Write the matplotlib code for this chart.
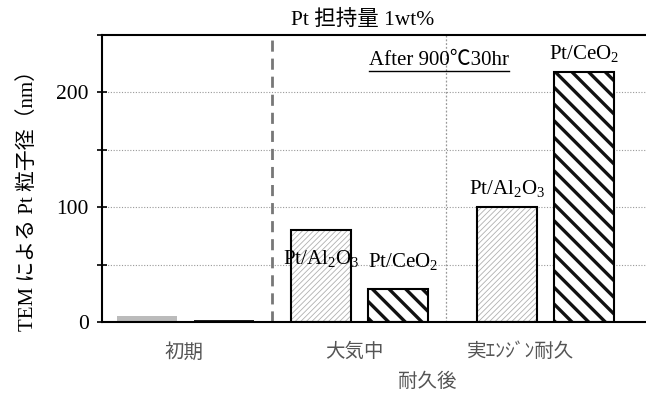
import matplotlib.pyplot as plt
from matplotlib.ticker import MultipleLocator
from matplotlib.lines import Line2D

plt.rcParams['font.family'] = ['Liberation Serif', 'Noto Sans CJK JP', 'DejaVu Sans']
plt.rcParams['mathtext.fontset'] = 'custom'
plt.rcParams['mathtext.rm'] = 'Liberation Serif'

# particle size of Pt by TEM (nm), Pt loading 1 wt%
groups = ['初期', '大気中', '実ｴﾝｼﾞﾝ耐久']
al2o3 = [5, 80, 100]
ceo2 = [2, 29, 218]

AL = 'Pt/Al$_\\mathregular{2}$O$_\\mathregular{3}$'
CE = 'Pt/CeO$_\\mathregular{2}$'

gx = [0.0, 1.0, 2.07]      # group centres
off = 0.22
w = 0.345
tick_x = [-0.01, 0.97, 1.93]

fig = plt.figure(figsize=(6.46, 3.94), dpi=100)
ax = fig.add_axes([102 / 646, 72 / 394, 546 / 646, 287 / 394])

# grid and separators
for y in [50, 100, 150, 200]:
    ax.axhline(y, color='#999999', lw=0.8, ls=(0, (1, 1.5)), zorder=0)
ax.axvline(0.5, color='#777777', lw=2.0, ls=(0, (4, 2.5)), zorder=1)
ax.axvline(1.5, color='#999999', lw=0.9, ls=(0, (1.5, 1.5)), zorder=0)

# initial state: very thin bars
ax.bar(gx[0] - off, al2o3[0], w, color='#bbbbbb', lw=0, zorder=2)
ax.bar(gx[0] + off, ceo2[0], w, color='#222222', lw=0, zorder=2)

# aged: hatched bars
xa = [x - off for x in gx[1:]]
xc = [x + off for x in gx[1:]]
with plt.rc_context({'hatch.linewidth': 0.6}):
    ax.bar(xa, al2o3[1:], w, color='white', edgecolor='#b0b0b0', hatch='//////', lw=0, zorder=2)
with plt.rc_context({'hatch.linewidth': 2.4}):
    ax.bar(xc, ceo2[1:], w, color='white', edgecolor='#111111', hatch='\\\\', lw=0, zorder=2)
ax.bar(xa + xc, al2o3[1:] + ceo2[1:], w, fill=False, edgecolor='black', lw=1.5, zorder=3)

# bar labels
ax.text(gx[1] - off, 55, AL, ha='center', va='center', fontsize=15, zorder=4)
ax.text(gx[1] + off + 0.03, 52, CE, ha='center', va='center', fontsize=15, zorder=4)
ax.text(gx[2] - off, al2o3[2] + 6, AL, ha='center', va='bottom', fontsize=15, zorder=4)
ax.text(gx[2] + off, ceo2[2] + 6, CE, ha='center', va='bottom', fontsize=15, zorder=4)
after = ax.text(1.46, 228, 'After 900℃30hr', ha='center', va='center', fontsize=15, zorder=4)

ax.set_xlim(-0.48, 2.66)
ax.set_ylim(0, 250)
ax.set_xticks(tick_x)
ax.set_xticklabels(groups, fontsize=14, color='#555555')
ax.tick_params(axis='x', length=0, pad=15)
ax.yaxis.set_major_locator(MultipleLocator(100))
ax.yaxis.set_minor_locator(MultipleLocator(50))
ax.tick_params(axis='y', which='both', direction='inout', length=7, width=1.2, labelsize=15.5, pad=6)
for s in ['left', 'bottom', 'top']:
    ax.spines[s].set_linewidth(1.5)
ax.spines['right'].set_visible(False)

ax.set_ylabel('TEM による Pt 粒子径（nm）', fontsize=15)
ax.yaxis.set_label_coords(-0.117, 0.44)
fig.text(427 / 646, 1 - 382 / 394, '耐久後', ha='center', va='center', fontsize=14, color='#555555')
fig.text(363 / 646, 1 - 20 / 394, 'Pt 担持量 1wt%', ha='center', va='center', fontsize=15.5)

# underline for the ageing condition
fig.canvas.draw()
bb = after.get_window_extent().transformed(fig.transFigure.inverted())
fig.add_artist(Line2D([bb.x0, bb.x1], [bb.y0 - 0.002, bb.y0 - 0.002], color='black', lw=1.0,
                      transform=fig.transFigure))

fig.savefig('out.png', dpi=100)
